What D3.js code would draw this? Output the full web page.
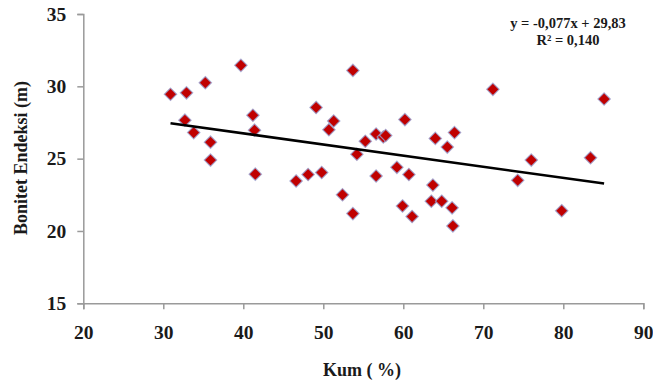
<!DOCTYPE html>
<html>
<head>
<meta charset="utf-8">
<script src="https://cdn.jsdelivr.net/npm/d3@7"></script>
<style>
  html, body { margin: 0; padding: 0; background: #fff; }
  svg { display: block; }
  text { font-family: "Liberation Serif", "Times New Roman", serif; font-weight: bold; fill: #1a1a1a; }
</style>
</head>
<body>
<svg id="chart" width="653" height="383"></svg>
<script>
// Sand content (%) per sample plot
const kum = [
  30.9, 32.9, 35.25, 39.7, 32.7, 33.8, 35.9, 35.9, 41.2, 41.4, 41.5,
  53.7, 49.1, 51.3, 50.7, 55.25, 56.6, 57.5, 57.8, 60.2, 64.0, 66.4, 65.5, 54.2,
  46.6, 48.1, 49.8, 52.4, 53.7, 56.6, 59.2, 60.7, 63.7, 63.5, 64.8, 66.1, 59.9, 61.1, 66.2,
  71.2, 85.1, 76.0, 74.3, 83.4, 79.8
];
// Site index (m) for the same plots
const bonitet = [
  29.45, 29.55, 30.25, 31.45, 27.66, 26.8, 26.14, 24.9, 28.0, 26.97, 23.93,
  31.1, 28.54, 27.6, 27.0, 26.2, 26.7, 26.5, 26.6, 27.7, 26.4, 26.8, 25.8, 25.3,
  23.46, 23.9, 24.04, 22.5, 21.2, 23.8, 24.4, 23.9, 23.17, 22.06, 22.06, 21.6, 21.73, 21.0, 20.35,
  29.79, 29.12, 24.9, 23.5, 25.06, 21.4
];

const xTicks = [20, 30, 40, 50, 60, 70, 80, 90];
const yTicks = [15, 20, 25, 30, 35];

// Linear trend fitted to the data
const slope = -0.077;
const intercept = 29.83;
const equationLines = ["y = -0,077x + 29,83", "R² = 0,140"];

const svg = d3.select("#chart");
const x = d3.scaleLinear().domain([20, 90]).range([83.3, 643.3]);
const y = d3.scaleLinear().domain([15, 35]).range([303.3, 14]);

const axisColor = "#9a9a9a";

// Y axis
const gy = svg.append("g").attr("transform", `translate(${x(20)},0)`)
  .call(d3.axisLeft(y).tickValues(yTicks).tickSize(6).tickPadding(11).tickFormat(d3.format("d")));
gy.select(".domain").attr("stroke", axisColor).attr("stroke-width", 1.5);
gy.selectAll(".tick line").attr("stroke", axisColor).attr("stroke-width", 1.5);
gy.selectAll(".tick text").attr("font-size", 19.5).attr("fill", "#1a1a1a")
  .attr("font-family", "Liberation Serif, serif").attr("font-weight", "bold");

// X axis
const gx = svg.append("g").attr("transform", `translate(0,${y(15)})`)
  .call(d3.axisBottom(x).tickValues(xTicks).tickSize(6).tickPadding(16).tickFormat(d3.format("d")));
gx.select(".domain").attr("stroke", axisColor).attr("stroke-width", 1.5);
gx.selectAll(".tick line").attr("stroke", axisColor).attr("stroke-width", 1.5);
gx.selectAll(".tick text").attr("font-size", 19.5).attr("fill", "#1a1a1a")
  .attr("font-family", "Liberation Serif, serif").attr("font-weight", "bold");

// Axis titles
svg.append("text").attr("x", 362).attr("y", 376).attr("text-anchor", "middle")
  .attr("font-size", 18).text("Kum ( %)");
svg.append("text").attr("transform", "translate(27,158) rotate(-90)")
  .attr("text-anchor", "middle").attr("font-size", 18).text("Bonitet Endeksi (m)");

// Markers
const r = 6.2;
const diamond = `M0,${-r}L${r},0L0,${r}L${-r},0Z`;
svg.append("g").selectAll("path").data(kum).join("path")
  .attr("d", diamond)
  .attr("transform", (d, i) => `translate(${x(d)},${y(bonitet[i])})`)
  .attr("fill", "#c00000")
  .attr("stroke", "#9aa0d0")
  .attr("stroke-width", 1.2)
  .attr("stroke-opacity", 0.8);

// Trend line across the data range
const xMin = d3.min(kum), xMax = d3.max(kum);
svg.append("line")
  .attr("x1", x(xMin)).attr("y1", y(slope * xMin + intercept))
  .attr("x2", x(xMax)).attr("y2", y(slope * xMax + intercept))
  .attr("stroke", "#000").attr("stroke-width", 2.6);

// Equation label
svg.append("g").selectAll("text").data(equationLines).join("text")
  .attr("x", 568).attr("y", (d, i) => 28 + i * 17)
  .attr("text-anchor", "middle").attr("font-size", 14.5)
  .text(d => d);
</script>
</body>
</html>
